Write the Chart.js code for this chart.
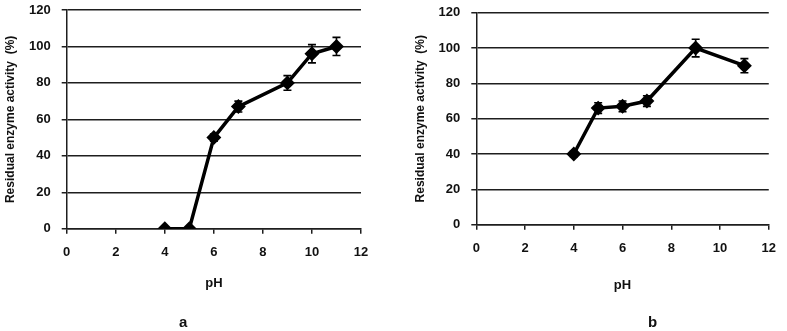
<!DOCTYPE html>
<html>
<head>
<meta charset="utf-8">
<script src="https://cdn.jsdelivr.net/npm/chart.js@4/dist/chart.umd.min.js"></script>
<style>
  html, body { margin: 0; padding: 0; background: #fff; }
  #wrap { position: relative; width: 787px; height: 331px; overflow: hidden; }
  .panel { position: absolute; top: 0; height: 331px; }
  .tag { position: absolute; top: 313px; font: bold 15px "Liberation Sans", sans-serif; color: #111; }
</style>
</head>
<body>
<div id="wrap">
  <div class="panel" style="left:0;width:393px"><canvas id="chartA"></canvas></div>
  <div class="panel" style="left:393px;width:394px"><canvas id="chartB"></canvas></div>
  <div class="tag" style="left:179px">a</div>
  <div class="tag" style="left:648px">b</div>
</div>
<script>
  // --- Data ---
  const phA = [4, 5, 6, 7, 9, 10, 11];
  const activityA = [0, 0, 50, 67, 80, 96, 100];
  const errA = [0, 0, 2, 3, 4, 5, 5];

  const phB = [4, 5, 6, 7, 9, 11];
  const activityB = [40, 66, 67, 70, 100, 90];
  const errB = [1.5, 3, 3, 3, 5, 4];

  const xTicks = [0, 2, 4, 6, 8, 10, 12];
  const yTicks = [0, 20, 40, 60, 80, 100, 120];

  const axisColor = '#1e1e1e';
  const fontFam = '"Liberation Sans", Arial, sans-serif';
  const tickFont = { family: fontFam, weight: 700, size: 13 };

  // draws vertical error bars with caps for each point
  const errorBars = {
    id: 'errorBars',
    afterDatasetsDraw(chart) {
      const ctx = chart.ctx;
      const xs = chart.scales.x, ys = chart.scales.y;
      const ds = chart.data.datasets[0];
      ctx.save();
      ctx.strokeStyle = '#000';
      ctx.lineWidth = 1.6;
      ds.data.forEach((p, i) => {
        const e = ds.errors[i];
        if (!e) return;
        const px = xs.getPixelForValue(p.x);
        const top = ys.getPixelForValue(p.y + e);
        const bot = ys.getPixelForValue(p.y - e);
        ctx.beginPath();
        ctx.moveTo(px, top); ctx.lineTo(px, bot);
        ctx.moveTo(px - 4, top); ctx.lineTo(px + 4, top);
        ctx.moveTo(px - 4, bot); ctx.lineTo(px + 4, bot);
        ctx.stroke();
      });
      ctx.restore();
    }
  };

  function makeChart(id, xs, ys, errs, opt) {
    const points = xs.map((x, i) => ({ x: x, y: ys[i] }));
    return new Chart(document.getElementById(id), {
      type: 'scatter',
      data: {
        datasets: [{
          data: points,
          errors: errs,
          showLine: true,
          borderColor: '#000',
          borderWidth: 3.5,
          backgroundColor: '#000',
          pointStyle: 'rectRot',
          pointRadius: 5,
          pointHoverRadius: 5
        }]
      },
      options: {
        responsive: true,
        maintainAspectRatio: false,
        animation: false,
        layout: { padding: { left: opt.padLeft, right: opt.padRight, top: opt.padTop, bottom: 0 } },
        plugins: { legend: { display: false }, tooltip: { enabled: false } },
        scales: {
          x: {
            type: 'linear',
            min: 0, max: 12,
            afterBuildTicks: s => { s.ticks = xTicks.map(v => ({ value: v })); },
            afterFit: s => { s.height = opt.xHeight; },
            grid: { drawOnChartArea: false, drawTicks: true, tickLength: 5, color: axisColor, lineWidth: 1.5 },
            border: { display: true, color: axisColor, width: 1.5 },
            ticks: { color: '#111', font: tickFont, padding: 11, maxRotation: 0 },
            title: { display: true, text: 'pH', color: '#111',
                     font: { family: fontFam, weight: 700, size: 13 },
                     padding: { top: 4, bottom: opt.pHBottom } }
          },
          y: {
            min: 0, max: 120,
            afterBuildTicks: s => { s.ticks = yTicks.map(v => ({ value: v })); },
            // keep label padding from pushing the plot down
            afterFit: s => { s.width = opt.yWidth; s.paddingTop = 8; s.paddingBottom = 8; },
            grid: { drawTicks: true, tickLength: 5, color: axisColor, lineWidth: 1.5 },
            border: { display: true, color: axisColor, width: 1.5 },
            ticks: { color: '#111', font: tickFont, padding: 11 },
            title: { display: true, text: 'Residual enzyme activity  (%)', color: '#111',
                     font: { family: fontFam, weight: 700, size: 12 },
                     padding: { top: 3, bottom: 4 } }
          }
        }
      },
      plugins: [errorBars]
    });
  }

  makeChart('chartA', phA, activityA, errA,
    { padLeft: 0, padRight: 32, padTop: 10, yWidth: 66.7, xHeight: 102.3, pHBottom: 40 });
  makeChart('chartB', phB, activityB, errB,
    { padLeft: 17, padRight: 12, padTop: 12.7, yWidth: 66.3, xHeight: 106.3, pHBottom: 38 });
</script>
</body>
</html>
